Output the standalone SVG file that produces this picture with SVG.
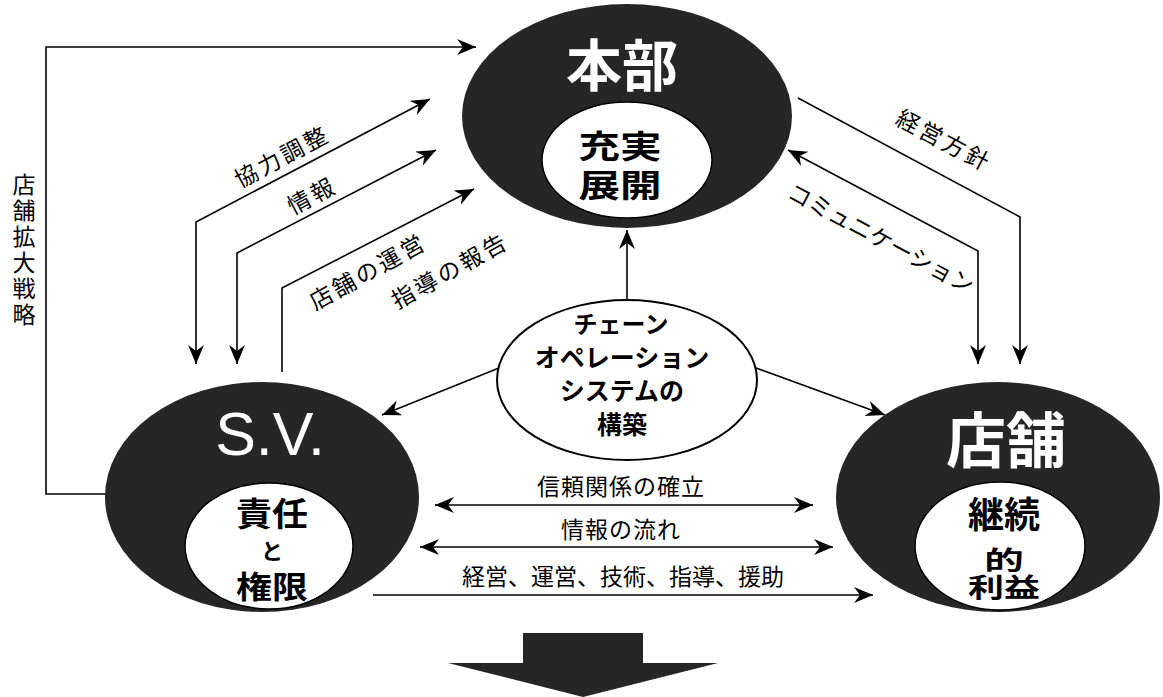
<svg xmlns="http://www.w3.org/2000/svg" width="1163" height="697" viewBox="0 0 1163 697">
<style>
.dark{fill:#262626;stroke:none}
.inner{fill:#fff;stroke:#000;stroke-width:1.5}
.ln{fill:none;stroke:#000;stroke-width:1.6}
.big{font-family:"Noto Sans CJK JP",sans-serif;font-weight:bold;fill:#fff;text-anchor:middle}
.in{font-family:"Noto Sans CJK JP",sans-serif;font-weight:bold;fill:#000;text-anchor:middle}
.lbl{font-family:"Noto Sans CJK JP",sans-serif;font-size:23px;fill:#000;text-anchor:middle}
.rl{letter-spacing:3px}
</style>
<defs>
<marker id="ah" markerUnits="userSpaceOnUse" markerWidth="22" markerHeight="18" refX="19" refY="8" orient="auto-start-reverse" viewBox="0 0 22 18">
<path d="M0,0 L19,8 L0,16 L6,8 z" fill="#000"/>
</marker>
</defs>
<rect width="1163" height="697" fill="#fff"/>
<g id="connectors">
<polyline class="ln" points="106,494 46,494 46,47 476,47" marker-end="url(#ah)"/>
<polyline class="ln" points="430,99 196,222 196,364" marker-start="url(#ah)" marker-end="url(#ah)"/>
<polyline class="ln" points="436,150 237,253 237,364" marker-start="url(#ah)" marker-end="url(#ah)"/>
<polyline class="ln" points="282,372 282,288 474,189" marker-end="url(#ah)"/>
<polyline class="ln" points="798,98 1020,217 1020,364" marker-end="url(#ah)"/>
<polyline class="ln" points="788,150 978,251 978,364" marker-start="url(#ah)" marker-end="url(#ah)"/>
<line class="ln" x1="627" y1="300" x2="627" y2="230" marker-end="url(#ah)"/>
<line class="ln" x1="499" y1="368" x2="382" y2="415" marker-end="url(#ah)"/>
<line class="ln" x1="756" y1="368" x2="885" y2="415" marker-end="url(#ah)"/>
<line class="ln" x1="435" y1="505" x2="813" y2="505" marker-start="url(#ah)" marker-end="url(#ah)"/>
<line class="ln" x1="420" y1="547" x2="833" y2="547" marker-start="url(#ah)" marker-end="url(#ah)"/>
<line class="ln" x1="373" y1="595" x2="873" y2="595" marker-end="url(#ah)"/>
</g>
<g id="labels">
<text class="lbl" font-size="23"><tspan x="24" y="193">店</tspan><tspan x="24" y="219">舗</tspan><tspan x="24" y="245">拡</tspan><tspan x="24" y="271">大</tspan><tspan x="24" y="297">戦</tspan><tspan x="24" y="323">略</tspan></text>
<text class="lbl rl" transform="translate(286,164) rotate(-28)">協力調整</text>
<text class="lbl rl" transform="translate(316,203) rotate(-28)">情報</text>
<text class="lbl rl" transform="translate(372,279) rotate(-29)">店舗の運営</text>
<text class="lbl rl" transform="translate(454,278) rotate(-29)">指導の報告</text>
<text class="lbl rl" transform="translate(940,148) rotate(28)">経営方針</text>
<text class="lbl" font-size="22" transform="translate(877,246) rotate(28)">コミュニケーション</text>
<text class="lbl" x="621" y="495" letter-spacing="1">信頼関係の確立</text>
<text class="lbl" x="621" y="538" letter-spacing="1">情報の流れ</text>
<text class="lbl" x="623" y="585">経営、運営、技術、指導、援助</text>
</g>
<g id="honbu">
<ellipse class="dark" cx="627" cy="116" rx="165" ry="112"/>
<text class="big" x="622" y="86" font-size="56">本部</text>
<ellipse class="inner" cx="627" cy="160" rx="85" ry="58" stroke="none"/>
<text class="in" font-size="34" transform="translate(620,158) scale(1.22,0.95)">充実</text>
<text class="in" font-size="34" transform="translate(620,197) scale(1.22,0.95)">展開</text>
</g>
<g id="sv">
<ellipse class="dark" cx="262" cy="497" rx="157" ry="115"/>
<text x="270" y="455" font-family="Liberation Sans,Arial,sans-serif" font-size="61" fill="#fff" text-anchor="middle">S.V.</text>
<ellipse class="inner" cx="269" cy="546" rx="84" ry="63"/>
<text class="in" font-size="36" transform="translate(272,526) scale(1,0.9)">責任</text>
<text class="in" x="272" y="559" font-size="22">と</text>
<text class="in" font-size="36" transform="translate(272,598) scale(1,0.85)">権限</text>
</g>
<g id="tenpo">
<ellipse class="dark" cx="998" cy="497" rx="162" ry="115"/>
<text class="big" x="1006" y="463" font-size="60">店舗</text>
<ellipse class="inner" cx="1000" cy="546" rx="85" ry="64"/>
<text class="in" font-size="36" transform="translate(1004,528)">継続</text>
<text class="in" font-size="36" transform="translate(1004,570) scale(1.1,0.72)">的</text>
<text class="in" font-size="36" transform="translate(1004,597) scale(1,0.74)">利益</text>
</g>
<g id="chain">
<ellipse cx="627" cy="380" rx="130" ry="80" fill="#fff" stroke="#000" stroke-width="2"/>
<text class="in" x="621" y="333" font-size="24">チェーン</text>
<text class="in" x="622" y="367" font-size="25">オペレーション</text>
<text class="in" x="622" y="400" font-size="25">システムの</text>
<text class="in" x="622" y="434" font-size="25">構築</text>
</g>
<g id="result">
<polygon class="dark" points="523,633 643,633 643,663 718,663 583,697 448,663 523,663"/>
</g>
</svg>
